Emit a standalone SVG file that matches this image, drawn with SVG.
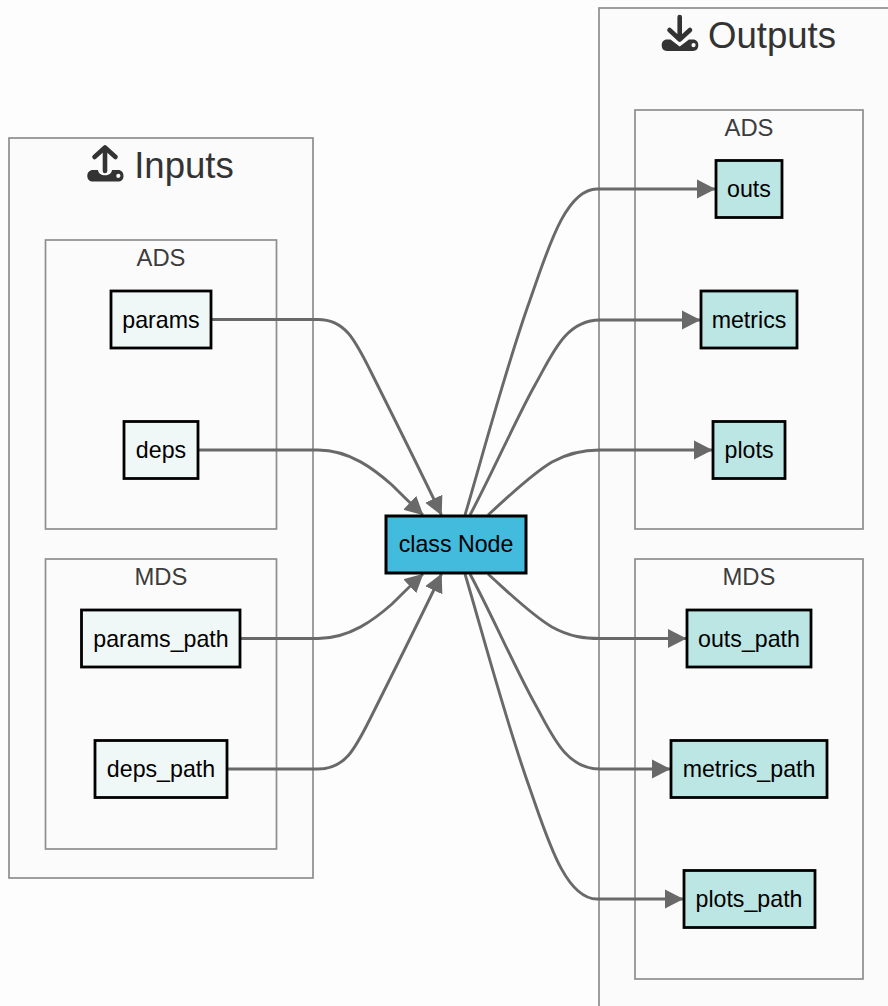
<svg xmlns="http://www.w3.org/2000/svg" width="888" height="1006" viewBox="0 0 888 1006">
<style>
.bg{fill:#fdfdfd}
.cl{fill:#fbfbfb;stroke:#8e8e8e;stroke-width:1.7}
.n{stroke:#000;stroke-width:2.8}
.in{fill:#f0f7f7}
.out{fill:#bbe6e3}
.main{fill:#42bbdd;stroke:#000;stroke-width:3}
text{font-family:"Liberation Sans",Arial,sans-serif;text-anchor:middle}
.t{font-size:23.2px;fill:#000}
.c{font-size:23.8px;fill:#3c3c3c}
.h{font-size:36.6px;fill:#333}
.e{fill:none;stroke:#696969;stroke-width:2.9}
.i{fill:#333}
.s{fill:none;stroke:#333;stroke-width:4.6;stroke-linecap:round;stroke-linejoin:round}
</style>
<defs>
<marker id="a" markerUnits="userSpaceOnUse" markerWidth="20" markerHeight="22" refX="18" refY="11" orient="auto"><path d="M0 1.500L18.500 11L0 20.500z" fill="#696969"/></marker>
</defs>
<rect class="bg" width="888" height="1006"/>
<g id="clusters">
<rect id="inputs" class="cl" x="9" y="138" width="304" height="740"/>
<rect id="inputs-ads" class="cl" x="45.500" y="240" width="231" height="289"/>
<rect id="inputs-mds" class="cl" x="45.500" y="559" width="231" height="290"/>
<rect id="outputs" class="cl" x="599" y="8" width="320" height="1030"/>
<rect id="outputs-ads" class="cl" x="635" y="110" width="228" height="419"/>
<rect id="outputs-mds" class="cl" x="635" y="559" width="228" height="420"/>
<text class="h" x="184" y="177.500">Inputs</text>
<text class="c" x="161" y="265.500">ADS</text>
<text class="c" x="161" y="584.500">MDS</text>
<text class="h" x="772" y="47.500">Outputs</text>
<text class="c" x="749" y="135.500">ADS</text>
<text class="c" x="749" y="584.500">MDS</text>
<g id="icon-in">
<path class="s" d="M94.500 157L105 147.500L115.500 157M105 148V171"/>
<path class="i" fill-rule="evenodd" d="M93 170H98C98.500 177 111.500 177 112 170H118C121.500 170 123.500 172.500 123.500 176C123.500 179.500 121.500 181.500 118 181.500H93C89.500 181.500 87.300 179.500 87.300 176C87.300 172.500 89.500 170 93 170ZM118.300 173.800A2.100 2.100 0 1 0 118.400 178A2.100 2.100 0 1 0 118.300 173.800Z"/>
</g>
<g id="icon-out">
<path class="s" d="M669.500 30L679.700 39.500L690 30M679.700 17V39"/>
<path class="i" fill-rule="evenodd" d="M667 39.500H670.500L679.700 46.500L689 39.500H693C696.500 39.500 698.300 42 698.300 45.300C698.300 48.800 696.500 51 693 51H667C663.500 51 661.700 48.800 661.700 45.300C661.700 42 663.500 39.500 667 39.500ZM693.500 43A2.100 2.100 0 1 0 693.600 47.200A2.100 2.100 0 1 0 693.500 43Z"/>
</g>
</g>
<g id="connectors">
<path class="e" marker-end="url(#a)" d="M212 319.500H318C345 319.500 355 340 370 370C395 420 420 470 441.500 515"/>
<path class="e" marker-end="url(#a)" d="M199 450H318C350 450 375 470 392 485C400 493 410 503 423 515"/>
<path class="e" marker-end="url(#a)" d="M241 638.500H318C350 638.500 375 619 392 604C400 596 410 586 423 574"/>
<path class="e" marker-end="url(#a)" d="M228 769H318C345 769 355 749 370 719C395 669 420 619 441.500 574"/>
<path class="e" marker-end="url(#a)" d="M465 515C480 465 505 370 530 300C547 252 565 189 597 189H715"/>
<path class="e" marker-end="url(#a)" d="M470 515C490 478 517 417 535 385C552 355 565 320 600 320H700"/>
<path class="e" marker-end="url(#a)" d="M488 515C505 500 530 475 552 462C570 452 585 450 600 450H712"/>
<path class="e" marker-end="url(#a)" d="M488 574C505 589 530 614 552 627C570 637 585 638.500 600 638.500H686"/>
<path class="e" marker-end="url(#a)" d="M470 574C490 611 517 672 535 704C552 734 565 769 600 769H670"/>
<path class="e" marker-end="url(#a)" d="M465 574C480 624 505 719 530 789C547 837 565 899 597 899H683"/>
</g>
<g id="params"><rect class="n in" x="111" y="291" width="100" height="57"/><text class="t" x="161" y="327.500">params</text></g>
<g id="deps"><rect class="n in" x="124" y="421.500" width="74" height="57"/><text class="t" x="161" y="457.500">deps</text></g>
<g id="params_path"><rect class="n in" x="81.500" y="610" width="158.500" height="57"/><text class="t" x="161" y="646.500">params_path</text></g>
<g id="deps_path"><rect class="n in" x="95" y="740.500" width="132" height="57"/><text class="t" x="161" y="776.500">deps_path</text></g>
<g id="class-node"><rect class="main" x="386" y="516" width="140" height="57"/><text class="t" x="456" y="551.500">class Node</text></g>
<g id="outs"><rect class="n out" x="716" y="160.500" width="66" height="57"/><text class="t" x="749" y="196.500">outs</text></g>
<g id="metrics"><rect class="n out" x="701" y="291" width="96" height="57"/><text class="t" x="749" y="327.500">metrics</text></g>
<g id="plots"><rect class="n out" x="713" y="421.500" width="72" height="57"/><text class="t" x="749" y="457.500">plots</text></g>
<g id="outs_path"><rect class="n out" x="687" y="610" width="124" height="57"/><text class="t" x="749" y="646.500">outs_path</text></g>
<g id="metrics_path"><rect class="n out" x="671" y="740.500" width="156" height="57"/><text class="t" x="749" y="776.500">metrics_path</text></g>
<g id="plots_path"><rect class="n out" x="684" y="870.500" width="131" height="57"/><text class="t" x="749" y="906.500">plots_path</text></g>
</svg>
